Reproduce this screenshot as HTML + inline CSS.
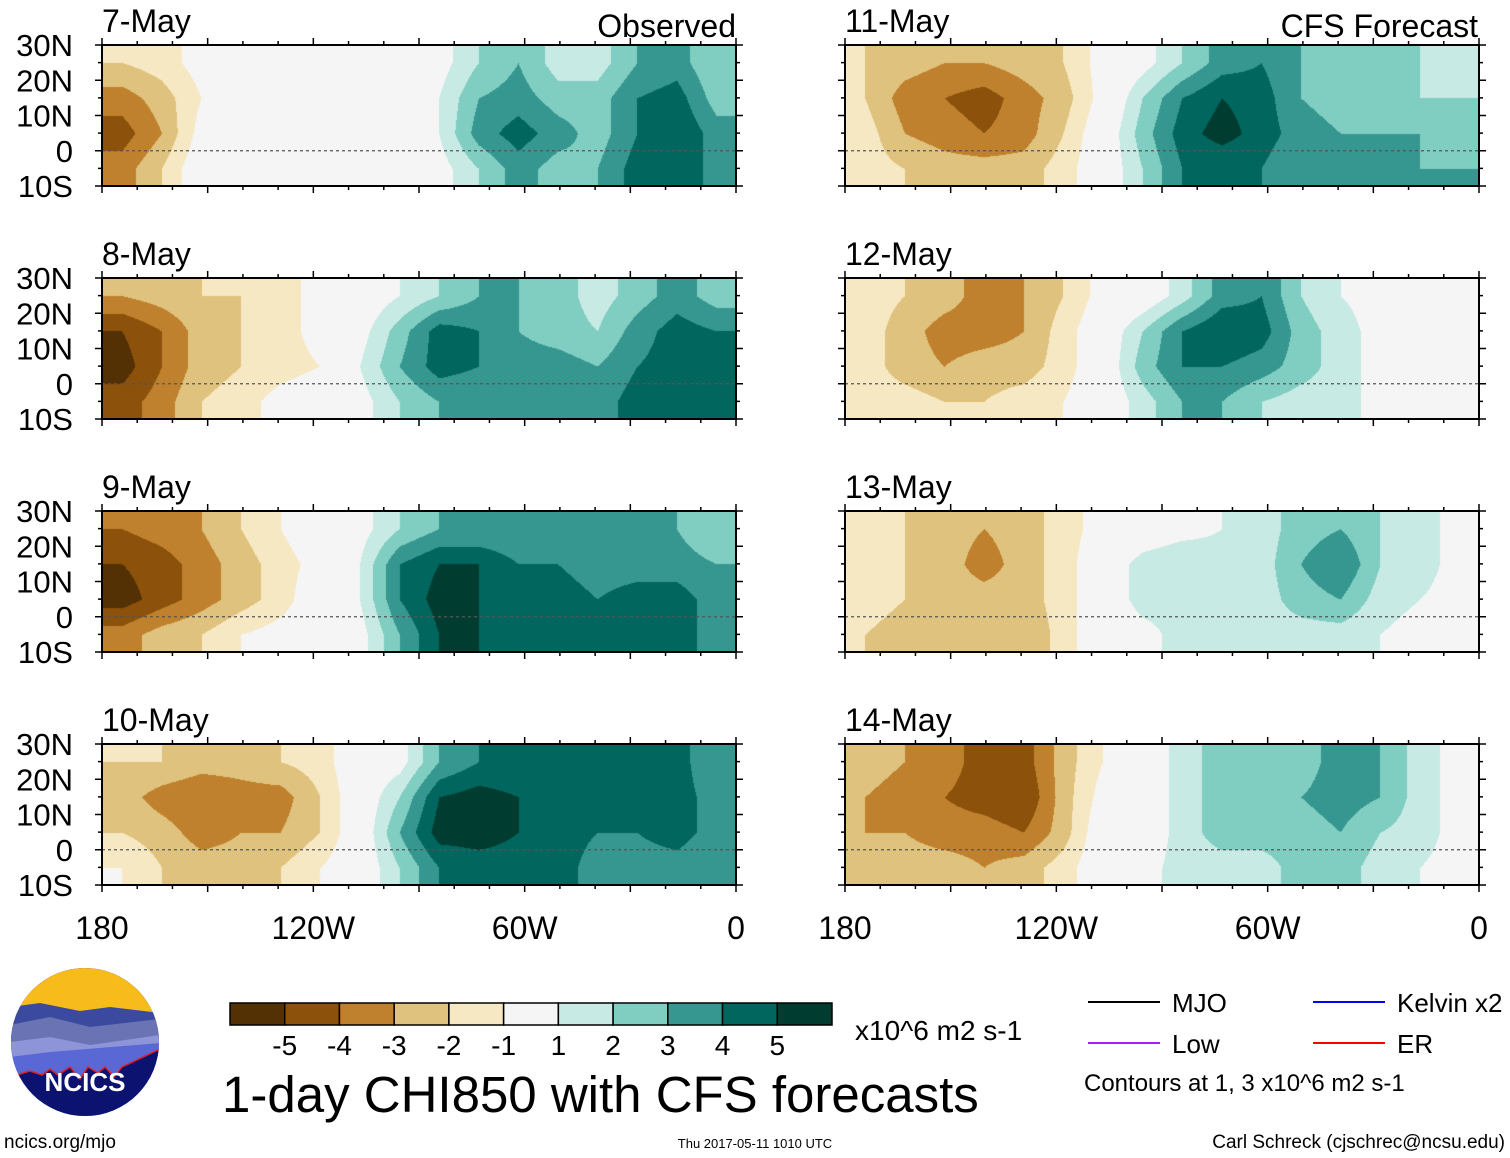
<!DOCTYPE html>
<html><head><meta charset="utf-8">
<style>
body{margin:0;background:#fff;width:1510px;height:1158px;overflow:hidden;position:relative;font-family:"Liberation Sans",sans-serif;color:#000}
canvas{position:absolute}
</style></head><body>
<svg id="over" width="1510" height="1158" style="position:absolute;left:0;top:0"></svg>
<script>
// Data: CHI850 anomaly (x10^6 m2 s-1), 4 latitude rows (30N-20N,20N-10N,10N-0,0-10S) x 16 longitude cols (180 -> 0)
const panelTitles=["7-May","8-May","9-May","10-May","11-May","12-May","13-May","14-May"];
const levels=[-5,-4,-3,-2,-1,1,2,3,4,5];
const levelLabels=["-5","-4","-3","-2","-1","1","2","3","4","5"];
const colors=["#543005","#8c510a","#bf812d","#dfc27d","#f6e8c3","#f5f5f5","#c7eae5","#80cdc1","#35978f","#01665e","#003c30"];
const latLabels=["30N","20N","10N","0","10S"];
const lonLabels=["180","120W","60W","0"];
const may7=[[-2,-1.5,-0.5,0,-1,-0.5,0,0,0.5,2,3,1.5,1.5,3,3.5,2],[-3.5,-2.5,-1,0,0,0,0,0,1,3,3.5,2.5,2.5,4,4.5,2.5],[-4.5,-3,-0.5,0,0,0,0,0,1,3.5,4.5,3.5,2.5,4,5,3.5],[-3.5,-2,0,0,0,0,0,0,0.5,2,3.5,2.5,3,4.5,5,3.5]];
const may8=[[-3,-2.5,-2,-2,-1.5,-0.5,0,1,2,3,3,2.5,1.5,2.5,3.5,2.5],[-5,-4,-2.5,-2,-1.5,-0.5,0.5,2.5,4.5,4,3,2.5,2,3.5,4.5,4],[-5.5,-4,-2.5,-2,-1.5,-1,1,3,4.5,4,3.5,3.5,3,4,4.5,4],[-4.5,-3.5,-2,-1.5,-0.5,0,0.5,2,3,3,3.5,3.5,3.5,4.5,4.5,4]];
const may9=[[-4,-3.5,-3,-2,-1,0,0.5,2,3,3,3,3,3,3,3,2],[-5,-4.5,-3.5,-2.5,-1.5,-0.5,1,4,5,5,4,4,3.5,3.5,3.5,3],[-5.5,-4.5,-3.5,-2.5,-1.5,0,1,4,5.5,5,4.5,4.5,4,4.5,4.5,3.5],[-3.5,-2.5,-2,-1,-0.5,0,0.5,3,5,5,4.5,4.5,4.5,5,4.5,3.5]];
const may10=[[-2,-2,-2.5,-2.5,-2,-1.5,0,0.5,3,4,4,4,4,4,4.5,3],[-2.5,-3.5,-4,-3.5,-3.5,-2,0,2,5,5.5,5,4.5,4,4,4.5,3.5],[-2,-2.5,-3.5,-3,-3,-2,0,3,5.5,5.5,5,4.5,4,4,4.5,3.5],[-1,-2,-2.5,-2.5,-2,-1,0,2,4,4.5,4.5,4.5,3.5,3.5,3.5,3]];
const may11=[[-2,-2.5,-3,-3,-2.5,-2,-0.5,0.5,2,3.5,4,3,2,2,2,1.5],[-2,-3.5,-4,-4.5,-3.5,-2.5,-0.5,2,4,5,4.5,3,2.5,2,2,2],[-1.5,-3,-3.5,-4,-3.5,-2,0,2.5,4.5,5.5,4.5,3.5,3,3,3,2.5],[-1.5,-2,-2.5,-2.5,-2.5,-1.5,0,2,4,4,4,3,3,3,3,3]];
const may12=[[-1.5,-2,-2.5,-3.5,-3,-2,-0.5,0,1.5,3.5,4,2,1,0.5,0,0],[-1.5,-2.5,-3.5,-3.5,-3,-1.5,0,2,4,5,4.5,2.5,1.5,0.5,0,0],[-1.5,-2.5,-3,-2.5,-2.5,-1.5,0,2.5,4,4,3.5,2.5,1.5,0.5,0,0],[-1.5,-1.5,-2,-2,-1.5,-1,0,1.5,3,3,2,1.5,1.5,0.5,0,0]];
const may13=[[-1.5,-2,-2.5,-3,-2.5,-1.5,-0.5,0,0.5,1,1.5,2.5,3,2,1.5,0.5],[-1.5,-2,-2.5,-3.5,-2.5,-1.5,0,1.5,2,1.5,1.5,3,4,2,1.5,0.5],[-1.5,-2,-2.5,-2.5,-2.5,-1.5,0,1.5,1.5,1,1.5,2.5,3,1.5,1,0.5],[-2,-2.5,-2.5,-2.5,-3,-1.5,0,0.5,1.5,1.5,1.5,1.5,1.5,1,0.5,0]];
const may14=[[-2.5,-3,-3.5,-4.5,-4.5,-2.5,-1,0,1.5,2.5,3,2.5,3.5,3,1.5,0.5],[-3,-3.5,-4,-4.5,-5,-2.5,-0.5,0,1.5,2.5,2.5,3,3.5,3,1.5,0.5],[-3,-3,-3.5,-3.5,-4,-2.5,0,0,1.5,2.5,2.5,2.5,3,2,1.5,0.5],[-2.5,-2.5,-2.5,-3,-2.5,-1.5,0,0.5,1.5,1.5,1.5,2.5,2.5,1.5,1,0.5]];
const fields=[may7,may8,may9,may10,may11,may12,may13,may14];

const NS="http://www.w3.org/2000/svg";
const svg=document.getElementById('over');
const PW=634,PH=141,lefts=[102,845],tops=[45,278,511,744];
function latY(top,lat){return top+(30-lat)/40*PH;}
function lonX(left,lon){return left+(180-lon)/180*PW;}
function colorOf(v){let i=0;while(i<levels.length&&v>=levels[i])i++;return colors[i];}
function hex(c){return [parseInt(c.slice(1,3),16),parseInt(c.slice(3,5),16),parseInt(c.slice(5,7),16)];}
function txt(x,y,s,size,name,anchor){const e=document.createElementNS(NS,'text');e.setAttribute('x',x);e.setAttribute('y',y);e.setAttribute('font-size',size);e.setAttribute('font-family','"Liberation Sans",sans-serif');if(anchor)e.setAttribute('text-anchor',anchor);e.textContent=s;


svg.appendChild(e);return e;}
function sample(f,x,y){const R=f.length,C=f[0].length;let cx=x*C-0.5,cy=y*R-0.5;cx=Math.max(0,Math.min(C-1,cx));cy=Math.max(0,Math.min(R-1,cy));const x0=Math.floor(cx),y0=Math.floor(cy),x1=Math.min(C-1,x0+1),y1=Math.min(R-1,y0+1),fx=cx-x0,fy=cy-y0;
const a=f[y0][x0]*(1-fx)+f[y0][x1]*fx,b=f[y1][x0]*(1-fx)+f[y1][x1]*fx;return a*(1-fy)+b*fy;}

fields.forEach((f,k)=>{
  const col=k<4?0:1,row=k%4,L=lefts[col],T=tops[row];
  const cv=document.createElement('canvas');cv.width=PW;cv.height=PH;cv.style.left=L+'px';cv.style.top=T+'px';
  
  
  document.body.insertBefore(cv,svg);
  const ctx=cv.getContext('2d'),img=ctx.createImageData(PW,PH);
  for(let y=0;y<PH;y++)for(let x=0;x<PW;x++){const c=hex(colorOf(sample(f,x/PW,y/PH)));const i=(y*PW+x)*4;img.data[i]=c[0];img.data[i+1]=c[1];img.data[i+2]=c[2];img.data[i+3]=255;}
  ctx.putImageData(img,0,0);
  const g=document.createElementNS(NS,'g');
  
  
  svg.appendChild(g);
  const eq=document.createElementNS(NS,'line');eq.setAttribute('x1',L);eq.setAttribute('x2',L+PW);eq.setAttribute('y1',latY(T,0));eq.setAttribute('y2',latY(T,0));eq.setAttribute('stroke','#555');eq.setAttribute('stroke-dasharray','3,3');eq.setAttribute('stroke-width','1.2');
  
  
  g.appendChild(eq);
  const r=document.createElementNS(NS,'rect');r.setAttribute('x',L);r.setAttribute('y',T);r.setAttribute('width',PW);r.setAttribute('height',PH);r.setAttribute('fill','none');r.setAttribute('stroke','#000');r.setAttribute('stroke-width','2');
  
  
  g.appendChild(r);
  for(let lon=0;lon<=180;lon+=10){const x=lonX(L,lon),len=lon%30===0?7:4;
    [[T,T-len],[T+PH,T+PH+len]].forEach(p=>{const t=document.createElementNS(NS,'line');t.setAttribute('x1',x);t.setAttribute('x2',x);t.setAttribute('y1',p[0]);t.setAttribute('y2',p[1]);t.setAttribute('stroke','#000');t.setAttribute('stroke-width','1.5');
    
    
    g.appendChild(t);});}
  for(let lat=-10;lat<=30;lat+=5){const y=latY(T,lat),len=lat%10===0?7:4;
    [[L,L-len],[L+PW,L+PW+len]].forEach(p=>{const t=document.createElementNS(NS,'line');t.setAttribute('x1',p[0]);t.setAttribute('x2',p[1]);t.setAttribute('y1',y);t.setAttribute('y2',y);t.setAttribute('stroke','#000');t.setAttribute('stroke-width','1.5');
    
    
    g.appendChild(t);});}
  txt(L,T-13,panelTitles[k],32,'panel-title');
  if(col===0) latLabels.forEach((s,i)=>txt(73,latY(T,30-10*i)+11,s,31,'lat-label','end'));
  if(row===3) lonLabels.forEach((s,i)=>txt(lonX(L,180-60*i),T+PH+54,s,32,'lon-label','middle'));
});
txt(736,37,'Observed',32,'observed-label','end');
txt(1478,37,'CFS Forecast',32,'cfs-forecast-label','end');
const cbX=230,cbY=1003,cbW=602,cbH=22,bw=cbW/colors.length;
colors.forEach((c,i)=>{const r=document.createElementNS(NS,'rect');r.setAttribute('x',cbX+i*bw);r.setAttribute('y',cbY);r.setAttribute('width',bw);r.setAttribute('height',cbH);r.setAttribute('fill',c);r.setAttribute('stroke','#000');r.setAttribute('stroke-width','1.5');


svg.appendChild(r);});
levelLabels.forEach((s,i)=>txt(cbX+(i+1)*bw,1055,s,28,'colorbar-label','middle'));
txt(855,1040,'x10^6 m2 s-1',28,'colorbar-units');
txt(222,1112,'1-day CHI850 with CFS forecasts',51,'chart-title');
const leg=[['MJO','#000',1088,1002],['Kelvin x2','#0000ff',1313,1002],['Low','#a020f0',1088,1043],['ER','#ff0000',1313,1043]];
leg.forEach(l=>{const e=document.createElementNS(NS,'line');e.setAttribute('x1',l[2]);e.setAttribute('x2',l[2]+72);e.setAttribute('y1',l[3]);e.setAttribute('y2',l[3]);e.setAttribute('stroke',l[1]);e.setAttribute('stroke-width','2');


svg.appendChild(e);txt(l[2]+84,l[3]+10,l[0],26,'legend-label');});
txt(1084,1091,'Contours at 1, 3 x10^6 m2 s-1',24,'contour-note');
txt(4,1148,'ncics.org/mjo',19,'footer-url');
txt(755,1148,'Thu 2017-05-11 1010 UTC',13,'footer-timestamp','middle');
txt(1505,1148,'Carl Schreck (cjschrec@ncsu.edu)',19,'footer-author','end');
</script>
<svg width="150" height="150" style="position:absolute;left:10px;top:967px">
<defs><clipPath id="cc"><circle cx="75" cy="75" r="74"/></clipPath></defs>
<g clip-path="url(#cc)">
<rect width="150" height="150" fill="#0b1270"/>
<rect width="150" height="60" fill="#f7bb1c"/>
<path d="M0,40 L30,36 L70,44 L100,40 L150,46 L150,150 L0,150Z" fill="#3b4a9e"/>
<path d="M0,58 L40,50 L80,60 L150,52 L150,150 L0,150Z" fill="#6a73b4"/>
<path d="M0,75 L40,70 L80,78 L150,68 L150,150 L0,150Z" fill="#8d95d8"/>
<path d="M0,90 L40,85 L150,76 L150,150 L0,150Z" fill="#5a68d6"/>
<path d="M0,110 L20,104 L32,108 L40,102 L48,108 L60,100 L70,112 L78,100 L88,106 L95,100 L104,110 L112,100 L150,82 L150,150 L0,150Z" fill="#0b1270" stroke="#e02020" stroke-width="1.5"/>
</g>
<text x="75" y="124" font-size="26" font-weight="bold" fill="#fff" text-anchor="middle" font-family="Liberation Sans,sans-serif">NCICS</text>
</svg>
</body></html>
